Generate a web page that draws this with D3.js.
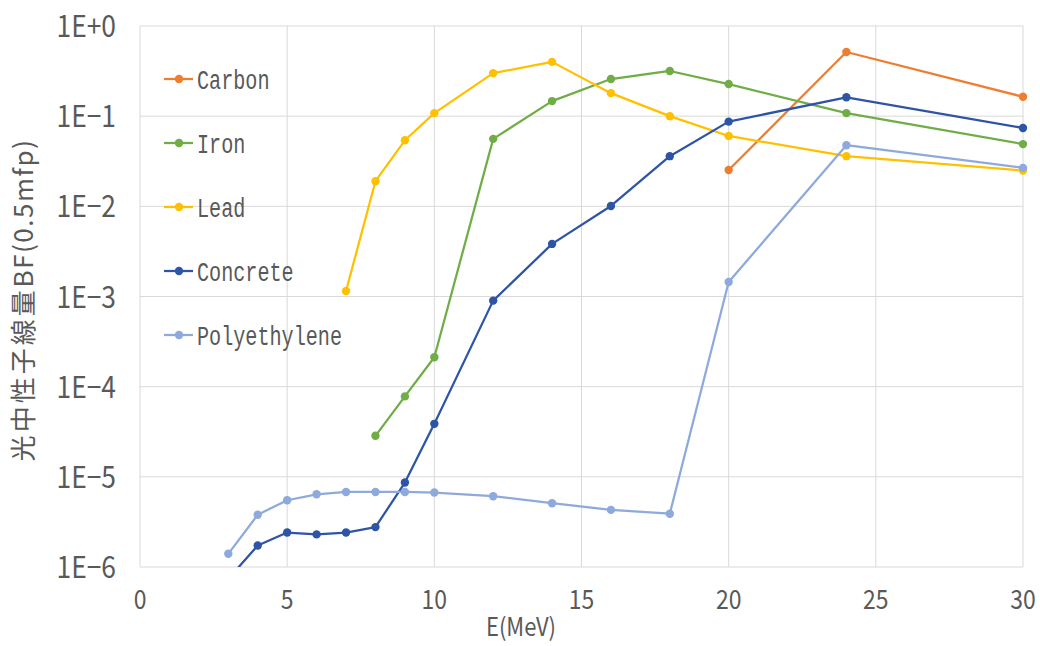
<!DOCTYPE html>
<html>
<head>
<meta charset="utf-8">
<script src="https://cdn.jsdelivr.net/npm/d3@7"></script>
<style>
  html, body { margin: 0; padding: 0; background: #fff; }
  svg { display: block; }
</style>
</head>
<body>
<svg id="chart" width="1040" height="646"></svg>
<script>
// Photoneutron dose buildup factor (0.5 mfp) versus photon energy
const energies = [3, 4, 5, 6, 7, 8, 9, 10, 12, 14, 16, 18, 20, 24, 30];

const carbonE = [20, 24, 30];
const carbon = [0.0253, 0.515, 0.164];

const ironE = [8, 9, 10, 12, 14, 16, 18, 20, 24, 30];
const iron = [2.85e-5, 7.8e-5, 2.12e-4, 0.056, 0.147, 0.258, 0.317, 0.227, 0.108, 0.049];

const leadE = [7, 8, 9, 10, 12, 14, 16, 18, 20, 24, 30];
const lead = [1.15e-3, 0.019, 0.054, 0.108, 0.30, 0.40, 0.18, 0.10, 0.0603, 0.036, 0.0249];

const concreteE = energies;
const concrete = [7.4e-7, 1.73e-6, 2.41e-6, 2.3e-6, 2.41e-6, 2.77e-6, 8.65e-6, 3.87e-5, 9.0e-4, 3.83e-3, 0.0101, 0.036, 0.087, 0.162, 0.074];

const polyE = energies;
const poly = [1.4e-6, 3.8e-6, 5.5e-6, 6.4e-6, 6.8e-6, 6.8e-6, 6.8e-6, 6.7e-6, 6.1e-6, 5.1e-6, 4.3e-6, 3.9e-6, 1.45e-3, 0.0476, 0.0267];

const seriesNames = ["Carbon", "Iron", "Lead", "Concrete", "Polyethylene"];
const seriesColors = ["#ED7D31", "#70AD47", "#FFC000", "#2E54A6", "#8EA9DB"];

const xTicks = [0, 5, 10, 15, 20, 25, 30];
const yTicks = [1, 1e-1, 1e-2, 1e-3, 1e-4, 1e-5, 1e-6];
const yTickLabels = ["1E+0", "1E\u22121", "1E\u22122", "1E\u22123", "1E\u22124", "1E\u22125", "1E\u22126"];

const xTitle = "E(MeV)";
const yTitleParts = ["光中性子線量", "BF(0.5mfp)"];

const series = [
  { name: seriesNames[0], color: seriesColors[0], pts: carbonE.map((e, i) => [e, carbon[i]]) },
  { name: seriesNames[1], color: seriesColors[1], pts: ironE.map((e, i) => [e, iron[i]]) },
  { name: seriesNames[2], color: seriesColors[2], pts: leadE.map((e, i) => [e, lead[i]]) },
  { name: seriesNames[3], color: seriesColors[3], pts: concreteE.map((e, i) => [e, concrete[i]]) },
  { name: seriesNames[4], color: seriesColors[4], pts: polyE.map((e, i) => [e, poly[i]]) }
];

const svg = d3.select("#chart");
const plot = { left: 140, right: 1023, top: 26, bottom: 567 };

const x = d3.scaleLinear().domain([0, 30]).range([plot.left, plot.right]);
const y = d3.scaleLog().domain([1e-6, 1]).range([plot.bottom, plot.top]);

const font = "'Noto Sans CJK JP', 'Noto Sans', sans-serif";
const textColor = "#595959";

// gridlines
const grid = svg.append("g");
grid.selectAll("line.h").data(yTicks).enter().append("line")
  .attr("x1", plot.left).attr("x2", plot.right)
  .attr("y1", d => y(d)).attr("y2", d => y(d))
  .attr("stroke", "#d9d9d9").attr("stroke-width", 1);
grid.selectAll("line.v").data(xTicks).enter().append("line")
  .attr("y1", plot.top).attr("y2", plot.bottom)
  .attr("x1", d => x(d)).attr("x2", d => x(d))
  .attr("stroke", "#d9d9d9").attr("stroke-width", 1);

// x tick labels (condensed face)
svg.append("g").selectAll("text").data(xTicks).enter().append("text")
  .attr("transform", d => `translate(${x(d)},609) scale(0.85,1)`)
  .attr("text-anchor", "middle")
  .attr("font-family", font).attr("font-size", 27).attr("fill", textColor)
  .text(d => d3.format("d")(d));

// y tick labels
svg.append("g").selectAll("text").data(yTicks).enter().append("text")
  .attr("transform", d => `translate(116,${y(d) + 11}) scale(0.88,1)`)
  .attr("text-anchor", "end")
  .attr("font-family", font).attr("font-size", 30).attr("fill", textColor)
  .text((d, i) => yTickLabels[i]);

// axis titles
svg.append("text")
  .attr("transform", "translate(521,636) scale(0.88,1)")
  .attr("text-anchor", "middle")
  .attr("font-family", font).attr("font-size", 25).attr("fill", textColor)
  .text(xTitle);

const yTitleText = svg.append("text")
  .attr("transform", "translate(33,300) rotate(-90)")
  .attr("text-anchor", "middle")
  .attr("font-family", font).attr("font-size", 26)
  .attr("fill", textColor);
yTitleText.append("tspan").attr("letter-spacing", 3).text(yTitleParts[0]);
yTitleText.append("tspan").attr("letter-spacing", 1.5).text(yTitleParts[1]);

// series
svg.append("clipPath").attr("id", "plotClip")
  .append("rect")
  .attr("x", plot.left).attr("y", plot.top - 10)
  .attr("width", plot.right - plot.left + 10).attr("height", plot.bottom - plot.top + 10);

const line = d3.line().x(d => x(d[0])).y(d => y(d[1]));
const marks = svg.append("g").attr("clip-path", "url(#plotClip)");

series.forEach(s => {
  marks.append("path")
    .datum(s.pts)
    .attr("d", line)
    .attr("fill", "none")
    .attr("stroke", s.color)
    .attr("stroke-width", 2.25)
    .attr("stroke-linejoin", "round");
  marks.selectAll(null)
    .data(s.pts.filter(p => p[1] >= 1e-6))
    .enter().append("circle")
    .attr("cx", d => x(d[0])).attr("cy", d => y(d[1]))
    .attr("r", 4.2)
    .attr("fill", s.color);
});

// legend
const legend = svg.append("g");
series.forEach((s, i) => {
  const ly = 79 + i * 64;
  legend.append("line")
    .attr("x1", 164).attr("x2", 193).attr("y1", ly).attr("y2", ly)
    .attr("stroke", s.color).attr("stroke-width", 2.25);
  legend.append("circle")
    .attr("cx", 179).attr("cy", ly).attr("r", 4.2).attr("fill", s.color);
  legend.append("text")
    .attr("transform", `translate(197,${ly + 10}) scale(0.72,1)`)
    .attr("font-family", "'Liberation Mono', 'DejaVu Sans Mono', monospace")
    .attr("font-size", 28).attr("fill", textColor)
    .text(s.name);
});
</script>
</body>
</html>
